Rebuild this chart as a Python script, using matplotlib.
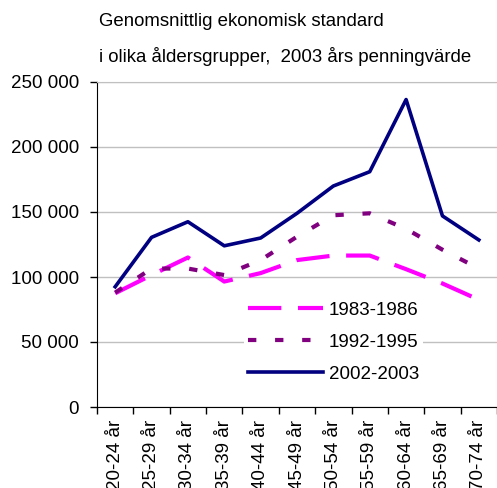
import numpy as np
import matplotlib.pyplot as plt

plt.rcParams['font.family'] = ['Liberation Sans', 'DejaVu Sans']

# age groups
groups = ['20-24 år', '25-29 år', '30-34 år', '35-39 år', '40-44 år', '45-49 år',
          '50-54 år', '55-59 år', '60-64 år', '65-69 år', '70-74 år']

# average economic standard, 2003 money value
s1983 = [87500, 101500, 115000, 96500, 103000, 113000, 116500, 116500, 106000, 95000, 82500]
s1992 = [88000, 106500, 106500, 101500, 113000, 131000, 147500, 149000, 137000, 121000, 106500]
s2002 = [92500, 130500, 142500, 124000, 130000, 149000, 170000, 181000, 236500, 147000, 128500]

yticks = [0, 50000, 100000, 150000, 200000, 250000]
ytick_labels = ['0', '50 000', '100 000', '150 000', '200 000', '250 000']

fig = plt.figure(figsize=(4.97, 4.88), dpi=100)
ax = fig.add_axes([97 / 497, 81 / 488, 400 / 497, 325 / 488])

x = np.arange(len(groups))
ax.plot(x, s1983, color='#ff00ff', lw=3, dashes=(8, 4), label='1983-1986')
ax.plot(x, s1992, color='#800080', lw=3, dashes=(2, 4.5), label='1992-1995')
ax.plot(x, s2002, color='#000080', lw=2.6, label='2002-2003')

ax.set_xlim(-0.5, len(groups) - 0.5)
ax.set_ylim(0, 250000)
ax.set_yticks(yticks)
ax.set_yticklabels(ytick_labels, fontsize=13.5)
ax.set_xticks(x)
ax.set_xticklabels(groups, rotation=90, fontsize=13.5)
ax.set_xticks(np.arange(len(groups) + 1) - 0.5, minor=True)
ax.tick_params(axis='x', which='major', length=0, pad=9)
ax.tick_params(axis='x', which='minor', length=5, width=1, direction='out')
ax.tick_params(axis='y', length=5, width=1, direction='out', pad=8)

ax.grid(axis='y', color='#c0c0c0', lw=1)
ax.set_axisbelow(True)
ax.spines['right'].set_visible(False)
ax.spines['top'].set_color('#c0c0c0')

leg = ax.legend(loc='upper left', bbox_to_anchor=(0.345, 0.365), fontsize=13.5,
                handlelength=4.0, handletextpad=0.3, labelspacing=0.8,
                frameon=True, fancybox=False, borderpad=0.2)
leg.get_frame().set_facecolor('white')
leg.get_frame().set_edgecolor('none')
leg.get_frame().set_alpha(1)

fig.text(99 / 497, 1 - 22 / 488, 'Genomsnittlig ekonomisk standard', fontsize=13.4, va='center')
fig.text(99 / 497, 1 - 56 / 488, 'i olika åldersgrupper,  2003 års penningvärde', fontsize=13.4, va='center')

fig.savefig('out.png', dpi=100)
